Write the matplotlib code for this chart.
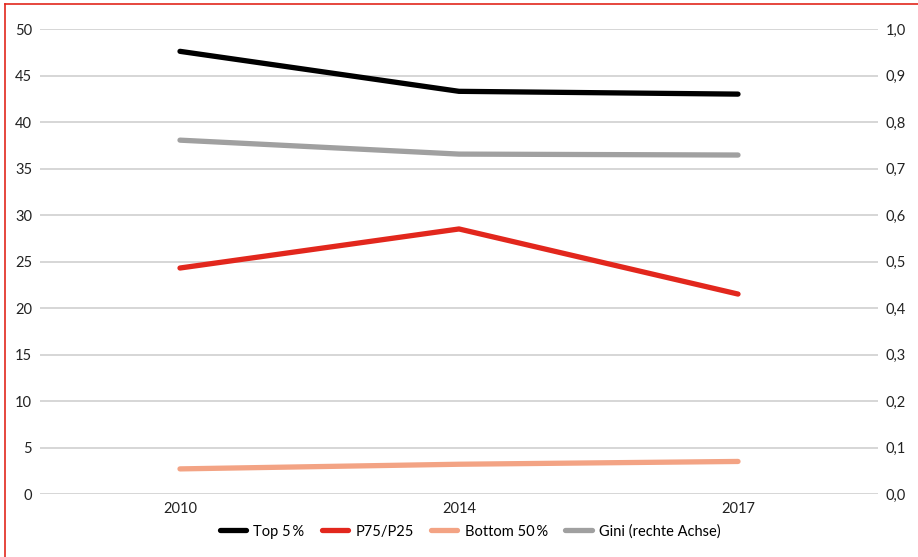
import matplotlib.pyplot as plt
from matplotlib.lines import Line2D
from matplotlib.ticker import FuncFormatter

years = ["2010", "2014", "2017"]
top5 = [47.6, 43.3, 43.0]
p75_p25 = [24.3, 28.5, 21.5]
bottom50 = [2.7, 3.2, 3.5]
gini = [0.761, 0.731, 0.729]

plt.rcParams['font.family'] = ['Lato', 'DejaVu Sans']

fig = plt.figure(figsize=(9.18, 5.57), dpi=100)
ax = fig.add_axes([0.0441, 0.1131, 0.9118, 0.8348])
ax2 = ax.twinx()

x = range(len(years))
lw = 3.8
l1, = ax.plot(x, top5, color="#000000", lw=lw, solid_capstyle="round", label="Top 5\u2009%")
l2, = ax.plot(x, p75_p25, color="#e2271d", lw=lw, solid_capstyle="round", label="P75/P25")
l3, = ax.plot(x, bottom50, color="#f3a384", lw=lw, solid_capstyle="round", label="Bottom 50\u2009%")
l4, = ax2.plot(x, gini, color="#a0a0a0", lw=lw, solid_capstyle="round", label="Gini (rechte Achse)")

ax.set_xlim(-0.5, 2.5)
ax.set_ylim(0, 50)
ax2.set_ylim(0, 1.0)
ax.set_yticks(range(0, 51, 5))
ax2.set_yticks([i / 10 for i in range(11)])
ax2.yaxis.set_major_formatter(FuncFormatter(lambda v, p: f"{v:.1f}".replace(".", ",")))
ax.set_xticks(list(x))
ax.set_xticklabels(years)

ax.grid(axis="y", color="#d0d0d0", lw=1.2)
ax.set_axisbelow(True)
for a in (ax, ax2):
    for s in a.spines.values():
        s.set_visible(False)
    a.tick_params(length=0, labelsize=10.5, colors="#222222")
ax.tick_params(axis="y", pad=6)
ax2.tick_params(axis="y", pad=6)
ax.tick_params(axis="x", pad=6)

fig.legend(handles=[l1, l2, l3, l4], loc="center", bbox_to_anchor=(0.512, 0.046),
           ncol=4, frameon=False, fontsize=10.5, handlelength=1.8, columnspacing=1.2,
           handletextpad=0.5)

# red frame
fig.add_artist(Line2D([0.0055, 0.0055], [0, 0.993], color="#e2271d", lw=1.2, transform=fig.transFigure))
fig.add_artist(Line2D([0.0055, 1.0], [0.993, 0.993], color="#e2271d", lw=1.2, transform=fig.transFigure))

fig.savefig("out.png", dpi=100)
